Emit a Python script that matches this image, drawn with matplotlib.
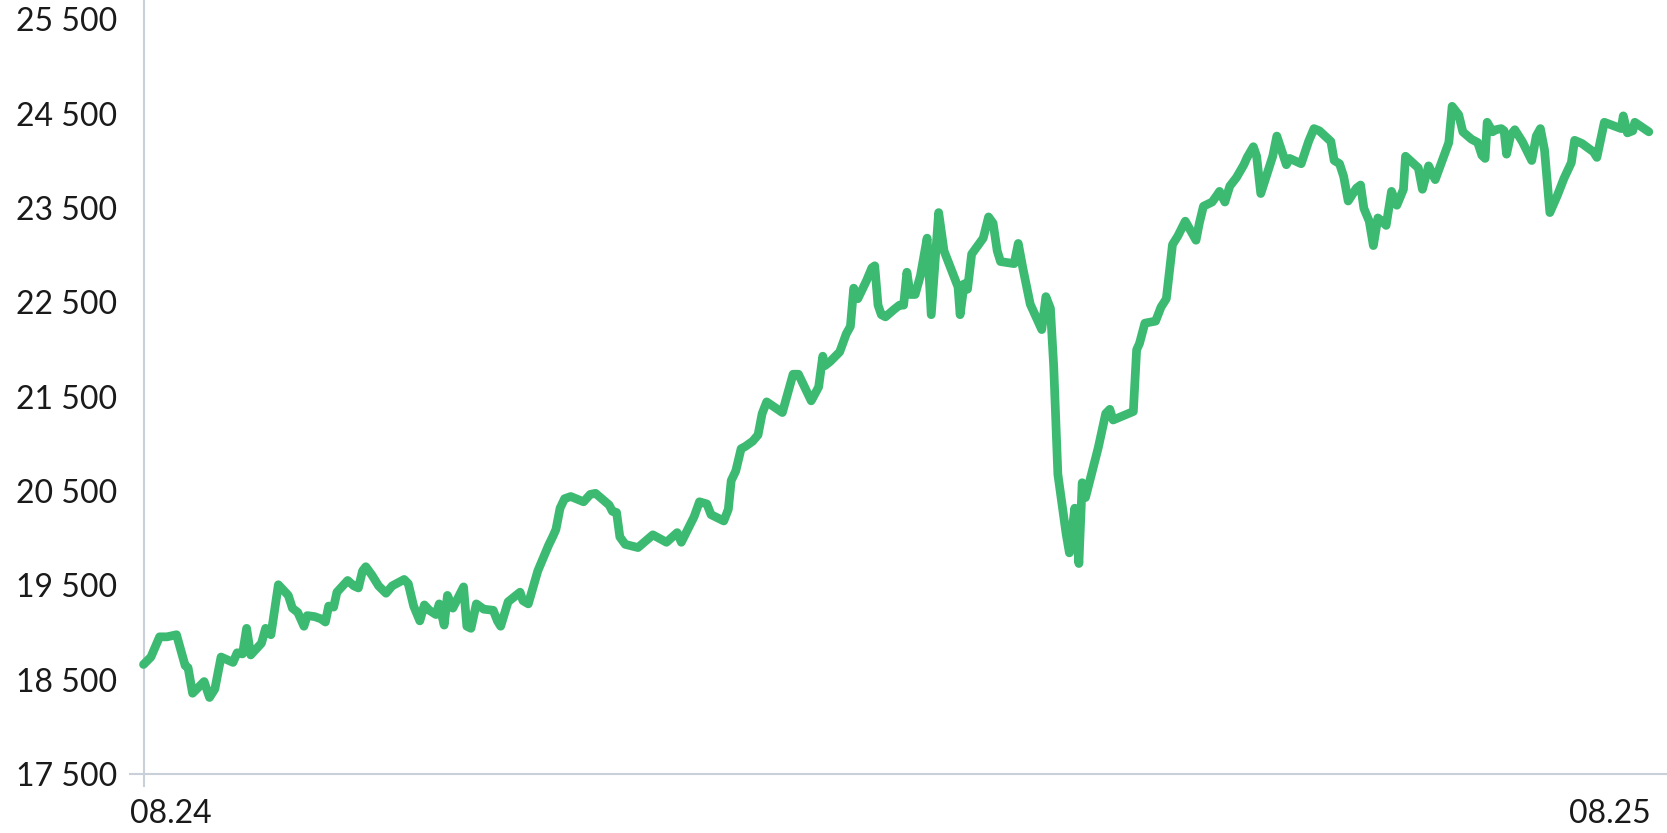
import matplotlib
matplotlib.use("Agg")
import matplotlib.pyplot as plt
from matplotlib.lines import Line2D

plt.rcParams['font.family'] = ['Lato', 'DejaVu Sans']

# Days since start (08.24) and index level
days = [0, 1.8, 3.9, 5.7, 8.0, 10.1, 10.8, 11.9, 14.7, 16.0, 17.3, 18.8, 21.7, 22.7, 24.0, 25.0, 26.0,
        28.6, 29.6, 30.9, 32.7, 35.1, 36.1, 37.4, 38.9, 39.7, 41.5, 43.0, 44.1, 44.9, 46.1, 46.9,
        49.5, 51.0, 52.1, 53.1, 53.9, 55.4, 57.0, 58.8, 60.3, 63.2, 64.2, 65.5, 67.0, 68.1, 69.3,
        70.9, 71.7, 72.9, 73.7, 75.0, 76.3, 77.6, 78.4, 79.4, 80.7, 82.5, 84.8, 85.8, 86.6, 88.4,
        91.3, 92.0, 93.3, 95.6, 98.2, 99.2, 100.0, 101.0, 102.1, 103.6, 106.7, 108.3, 109.6, 111.1,
        112.9, 113.7, 114.7, 115.5, 116.8, 119.9, 123.5, 126.8, 129.4, 130.4, 133.5, 134.8, 136.6,
        137.6, 140.7, 141.8, 142.5, 143.6, 144.9, 145.9, 147.7, 149.0, 150.0, 151.1, 154.9, 156.5,
        157.5, 158.8, 161.9, 163.7, 164.7, 165.2, 166.5, 168.8, 170.4, 171.4, 172.2, 173.2, 175.3,
        176.6, 177.3, 178.1, 178.9, 179.9, 182.0, 183.3, 184.3, 185.1, 185.9, 187.1, 188.4, 190.0,
        191.0, 192.8, 194.1, 197.5, 198.0, 199.0, 199.8, 200.8, 202.1, 203.6, 204.9, 206.0, 207.0,
        207.8, 211.1, 212.1, 213.2, 214.2, 215.0, 217.8, 218.8, 219.9, 220.7, 221.7, 223.7, 224.5,
        225.8, 226.8, 227.6, 228.4, 231.5, 233.3, 234.3, 235.1, 240.0, 240.8, 241.5, 242.8, 245.4,
        246.7, 248.0, 249.5, 250.8, 252.6, 255.2, 256.0, 257.0, 259.1, 260.4, 260.9, 262.2, 263.4,
        265.0, 266.8, 267.6, 269.1, 269.9, 270.9, 273.8, 274.8, 277.1, 277.9, 280.7, 282.5, 283.8,
        285.1, 287.9, 288.7, 290.0, 291.0, 292.1, 294.1, 295.1, 295.9, 297.2, 298.2, 299.3, 300.3,
        301.3, 302.6, 303.9, 305.5, 306.0, 308.0, 309.1, 310.1, 311.6, 313.2, 314.7, 316.5, 317.3,
        318.9, 319.9, 322.0, 323.5, 324.5, 325.3, 325.8, 327.1, 327.9, 329.2, 329.9, 330.5, 331.5,
        332.5, 334.3, 336.6, 337.7, 338.7, 339.7, 341.0, 342.8, 344.4, 346.2, 347.0, 348.8, 351.6,
        352.4, 354.2, 358.3, 358.8, 359.8, 361.1, 361.6, 365.0]

values = [18661, 18740, 18954, 18954, 18976, 18649, 18627, 18356, 18480, 18311, 18401, 18740, 18683,
          18785, 18773, 19044, 18762, 18886, 19044, 18976, 19506, 19393, 19258, 19213, 19066, 19179,
          19168, 19145, 19111, 19280, 19269, 19427, 19551, 19494, 19472, 19652, 19697, 19607, 19494,
          19416, 19494, 19562, 19517, 19280, 19123, 19292, 19235, 19190, 19303, 19078, 19393, 19258,
          19371, 19483, 19066, 19044, 19303, 19247, 19235, 19123, 19066, 19325, 19427, 19337, 19303,
          19652, 19923, 20013, 20092, 20317, 20418, 20441, 20385, 20463, 20475, 20418, 20351, 20283,
          20272, 20013, 19934, 19900, 20035, 19956, 20058, 19956, 20227, 20385, 20362, 20249, 20182,
          20306, 20610, 20711, 20948, 20971, 21027, 21094, 21320, 21444, 21331, 21579, 21737, 21737,
          21455, 21602, 21928, 21827, 21872, 21973, 22165, 22244, 22649, 22537, 22728, 22864, 22886,
          22469, 22368, 22345, 22424, 22469, 22469, 22818, 22582, 22582, 22785, 23179, 22368, 23450,
          23044, 22661, 22368, 22695, 22638, 23010, 23089, 23179, 23404, 23337, 23044, 22931, 22909,
          23123, 22864, 22649, 22480, 22210, 22559, 22435, 21816, 20678, 20047, 19844, 20317, 19731,
          20587, 20430, 20959, 21320, 21365, 21252, 21342, 21996, 22064, 22278, 22300, 22447, 22537,
          23111, 23202, 23359, 23157, 23337, 23517, 23562, 23641, 23675, 23562, 23731, 23821, 23957,
          24035, 24148, 24047, 23652, 24047, 24261, 23957, 24024, 23968, 24204, 24340, 24317, 24204,
          24002, 23968, 23833, 23573, 23709, 23742, 23495, 23359, 23100, 23393, 23359, 23314, 23675,
          23528, 23697, 24047, 23968, 23923, 23697, 23945, 23799, 23979, 24193, 24576, 24486, 24306,
          24227, 24193, 24058, 24024, 24407, 24306, 24328, 24340, 24317, 24069, 24272, 24328, 24204,
          24002, 24261, 24340, 24114, 23450, 23630, 23810, 23979, 24216, 24182, 24092, 24035, 24407,
          24340, 24475, 24295, 24317, 24407, 24306]

y_ticks = [17500, 18500, 19500, 20500, 21500, 22500, 23500, 24500, 25500]
y_tick_labels = ["17 500", "18 500", "19 500", "20 500", "21 500", "22 500", "23 500", "24 500", "25 500"]
x_labels = ["08.24", "08.25"]

LINE_COLOR = "#3dba72"
AXIS_COLOR = "#c9d0d9"
TEXT_COLOR = "#1a1a1a"

fig = plt.figure(figsize=(16.67, 8.33), dpi=100)
ax = fig.add_axes([0.0778, 0.0708, 1 - 0.0778, 1 - 0.0708])

ax.plot(days, values, color=LINE_COLOR, lw=6.3, solid_joinstyle="round",
        solid_capstyle="round", zorder=3, clip_on=False)

ax.set_xlim(-3.35, 369.4)
ax.set_ylim(17500, 25703)

for s in ["top", "right", "left"]:
    ax.spines[s].set_visible(False)
ax.spines["bottom"].set_color(AXIS_COLOR)
ax.spines["bottom"].set_linewidth(1.5)

# vertical axis line at start date, extending slightly below the baseline
ax.add_line(Line2D([0, 0], [-0.016, 1], transform=ax.get_xaxis_transform(),
                   color=AXIS_COLOR, lw=1.5, clip_on=False, zorder=2))

ax.set_yticks(y_ticks)
ax.set_yticklabels(y_tick_labels, fontsize=23, color=TEXT_COLOR, fontweight="normal")
ax.tick_params(axis="y", length=0, pad=9)
ax.set_xticks([])

ax.text(-3.35, -0.052, x_labels[0], transform=ax.get_xaxis_transform(), ha="left", va="center",
        fontsize=23, color=TEXT_COLOR)
ax.text(365.5, -0.052, x_labels[1], transform=ax.get_xaxis_transform(), ha="right", va="center",
        fontsize=23, color=TEXT_COLOR)

fig.savefig("out.png", dpi=100)
